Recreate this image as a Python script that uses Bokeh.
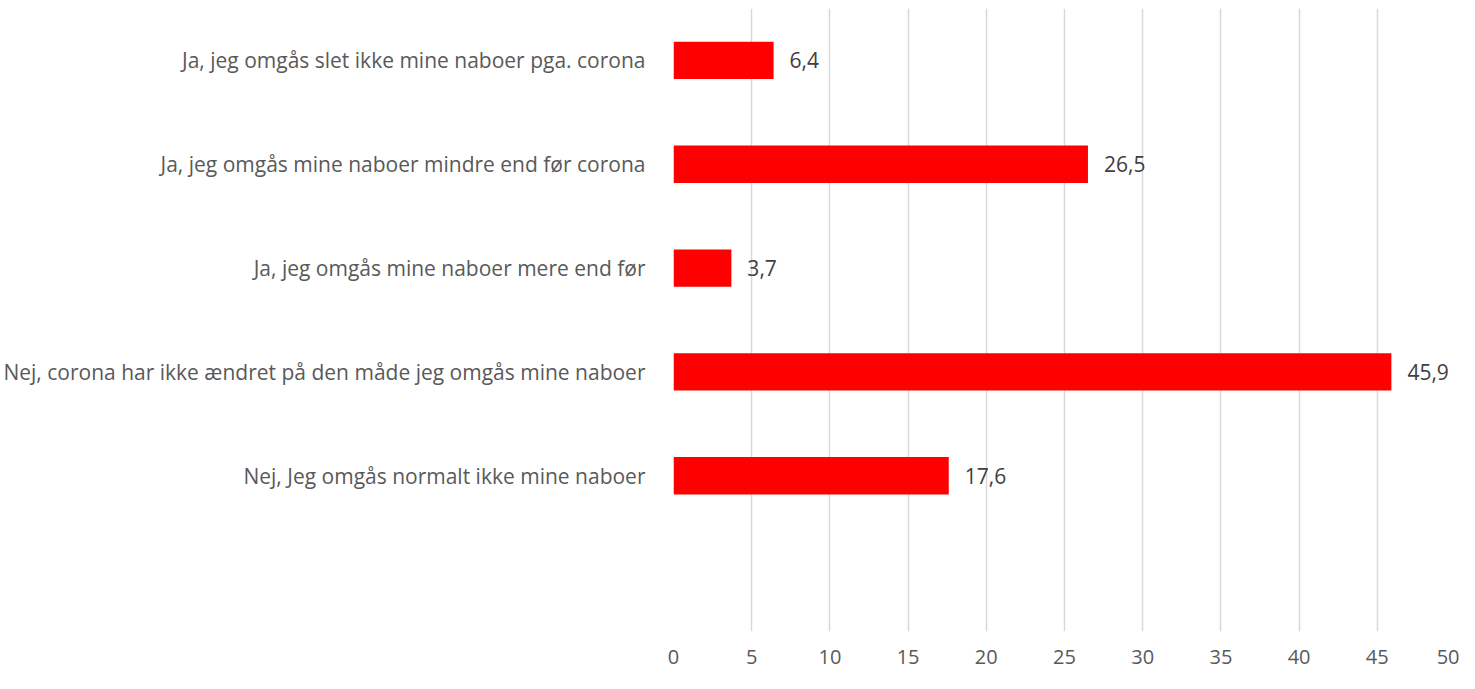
from bokeh.plotting import figure
from bokeh.models import ColumnDataSource, FactorRange, Range1d, FixedTicker
from bokeh.core.properties import value
from bokeh.embed import file_html
from bokeh.resources import INLINE

categories = [
    "Ja, jeg omgås slet ikke mine naboer pga. corona",
    "Ja, jeg omgås mine naboer mindre end før corona",
    "Ja, jeg omgås mine naboer mere end før",
    "Nej, corona har ikke ændret på den måde jeg omgås mine naboer",
    "Nej, Jeg omgås normalt ikke mine naboer",
]
values = [6.4, 26.5, 3.7, 45.9, 17.6]
value_labels = ["6,4", "26,5", "3,7", "45,9", "17,6"]
x_ticks = [0, 5, 10, 15, 20, 25, 30, 35, 40, 45, 50]

factors = [" "] + categories[::-1]

src = ColumnDataSource(dict(cat=categories, val=values, lab=value_labels))

p = figure(width=1459, height=673, output_backend="svg", toolbar_location=None,
           y_range=FactorRange(factors=factors), x_range=Range1d(0, 50),
           min_border_left=670, min_border_right=4, min_border_top=8, min_border_bottom=42)
p.outline_line_color = None

p.hbar(y="cat", right="val", left=0, height=0.36, source=src,
       fill_color="#FF0000", line_color=None)
p.text(x="val", y="cat", text="lab", source=src, x_offset=16,
       text_baseline="middle", text_align="left",
       text_font=value("Open Sans"), text_font_size="21px", text_color="#404040")

p.xaxis.ticker = FixedTicker(ticks=x_ticks)
p.xaxis.axis_line_color = None
p.xaxis.major_tick_line_color = None
p.xaxis.minor_tick_line_color = None
p.xaxis.major_label_text_font = "Open Sans"
p.xaxis.major_label_text_font_size = "20px"
p.xaxis.major_label_text_color = "#595959"
p.xaxis.major_label_standoff = 12

p.yaxis.axis_line_color = None
p.yaxis.major_tick_line_color = None
p.yaxis.minor_tick_line_color = None
p.yaxis.major_label_text_font = "Open Sans"
p.yaxis.major_label_text_font_size = "21px"
p.yaxis.major_label_text_color = "#595959"
p.yaxis.major_label_standoff = 22

p.xgrid.grid_line_color = "#d9d9d9"
p.xgrid.grid_line_width = 1.5
p.ygrid.grid_line_color = None

open("out.html", "w").write(file_html(p, INLINE))
